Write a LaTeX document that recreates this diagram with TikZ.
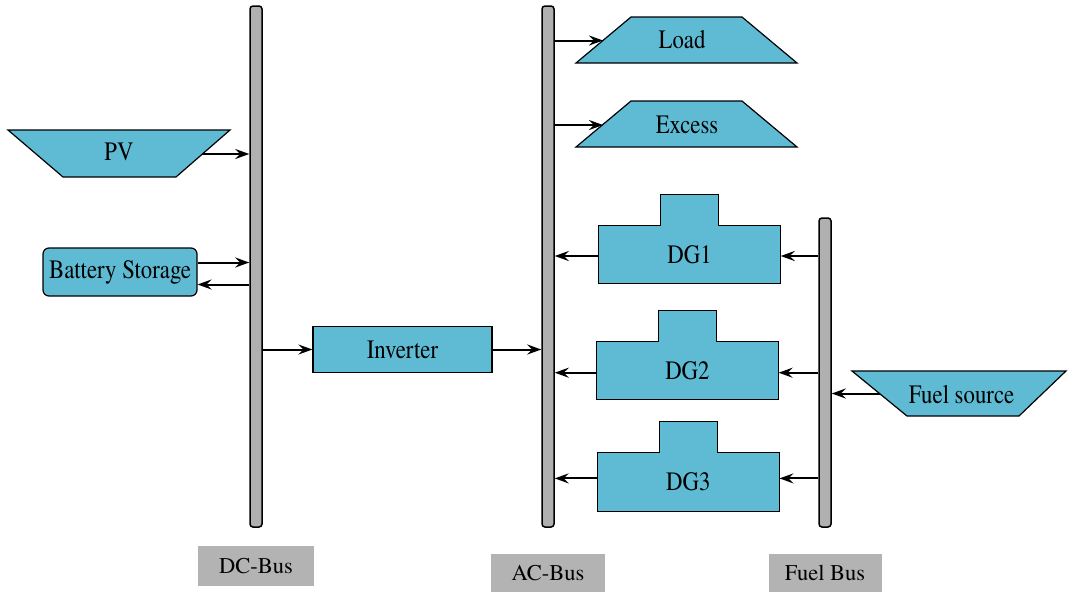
\documentclass[tikz,border=0pt]{standalone}
\usepackage{fontspec}
\setmainfont{TeX Gyre Termes}
\newfontfamily\narrowface{TeX Gyre Termes}[FakeStretch=0.86]
\usetikzlibrary{arrows.meta,calc}
\definecolor{boxblue}{HTML}{5EBBD3}
\definecolor{busgray}{HTML}{B0B0B0}
\definecolor{labelgray}{HTML}{B3B3B3}
\begin{document}
\begin{tikzpicture}[x=1pt,y=-1pt,
  every node/.style={font=\narrowface\fontsize{26.5}{30}\selectfont, inner sep=0pt},
  busbar/.style={draw=black, line width=1.5pt, fill=busgray, rounded corners=3pt, minimum width=12pt},
  buslabel/.style={fill=labelgray, font=\rmfamily\fontsize{22.5}{26}\selectfont},
  unitbox/.style={draw=black, line width=1.2pt, fill=boxblue},
  shapeline/.style={draw=black, line width=1.2pt, fill=boxblue, line join=miter},
  dgbody/.style={fill=boxblue, minimum width=182pt, minimum height=58pt},
  flowline/.style={draw=black, line width=2pt, -{Stealth[length=14pt,width=10pt,inset=5pt]}},
]
\useasboundingbox (0,0) rectangle (1068,592);

% buses
\node[busbar, minimum height=521pt] (dc) at (256,266.5) {};
\node[busbar, minimum height=521pt] (ac) at (548,266.5) {};
\node[busbar, minimum height=309pt] (fuel) at (825,372.5) {};

% bus labels
\node[buslabel, minimum width=116pt, minimum height=40pt] (dclab) at (256,566) {DC-Bus};
\node[buslabel, minimum width=114pt, minimum height=38pt] (aclab) at (548,573) {AC-Bus};
\node[buslabel, minimum width=113pt, minimum height=38pt] (fuellab) at (825,573) {Fuel Bus};

% PV source (inverted trapezium)
\path[shapeline] (8,130) -- (230,130) -- (176,177) -- (63,177) -- cycle;
\node (pv) at (119,152) {PV};
\coordinate (pvout) at (202.4,154);

% battery and inverter
\node[unitbox, rounded corners=6pt, minimum width=154pt, minimum height=48pt] (bat) at (120,272) {Battery Storage};
\node[unitbox, minimum width=179pt, minimum height=46pt] (inv) at (402.5,349.5) {Inverter};

% load and excess (trapezium)
\path[shapeline] (631,17) -- (742,17) -- (797,63) -- (576,63) -- cycle;
\node (load) at (682,40) {Load};
\coordinate (loadin) at (603,40.5);
\path[shapeline] (631,101) -- (742,101) -- (797,147) -- (576,147) -- cycle;
\node (excess) at (687,125) {Excess};
\coordinate (excessin) at (603,125);

% fuel source (inverted trapezium)
\path[shapeline] (852,371) -- (1066,371) -- (1019,416) -- (907,416) -- cycle;
\node (fsrc) at (961.5,395) {Fuel source};
\coordinate (fsrcout) at (879.5,393.5);

% diesel generators: body node plus raised top block
\node[dgbody] (dg1) at (689.5,254.3) {};
\node[dgbody] (dg2) at (687.4,370.4) {};
\node[dgbody] (dg3) at (688.3,481.9) {};
\foreach \g in {dg1,dg2,dg3}{
  \path[shapeline] (\g.south west) -- (\g.north west) -- ([xshift=-29pt]\g.north)
    -- ++(0,-31) -- ++(58,0) -- ([xshift=29pt]\g.north) -- (\g.north east)
    -- (\g.south east) -- cycle;
}
\node at (dg1) {DG1};
\node at (dg2) {DG2};
\node at (dg3) {DG3};

% DC side flows
\draw[flowline] (pvout) -- (pvout -| dc.west);
\draw[flowline] ([yshift=9.5pt]bat.east) -- ([yshift=9.5pt]bat.east -| dc.west);
\draw[flowline] ([yshift=-12.5pt]bat.east -| dc.west) -- ([yshift=-12.5pt]bat.east);
\draw[flowline] (inv.west -| dc.east) -- (inv.west);
\draw[flowline] (inv.east) -- (inv.east -| ac.west);

% AC side flows
\draw[flowline] (loadin -| ac.east) -- (loadin);
\draw[flowline] (excessin -| ac.east) -- (excessin);
\draw[flowline] ([yshift=-1.7pt]dg1.west) -- ([yshift=-1.7pt]dg1.west -| ac.east);
\draw[flowline] ([yshift=-2.3pt]dg2.west) -- ([yshift=-2.3pt]dg2.west -| ac.east);
\draw[flowline] ([yshift=3.5pt]dg3.west) -- ([yshift=3.5pt]dg3.west -| ac.east);

% fuel side flows
\draw[flowline] ([yshift=-1.7pt]dg1.east -| fuel.west) -- ([yshift=-1.7pt]dg1.east);
\draw[flowline] ([yshift=-2.3pt]dg2.east -| fuel.west) -- ([yshift=-2.3pt]dg2.east);
\draw[flowline] ([yshift=3.5pt]dg3.east -| fuel.west) -- ([yshift=3.5pt]dg3.east);
\draw[flowline] (fsrcout) -- (fsrcout -| fuel.east);
\end{tikzpicture}
\end{document}
